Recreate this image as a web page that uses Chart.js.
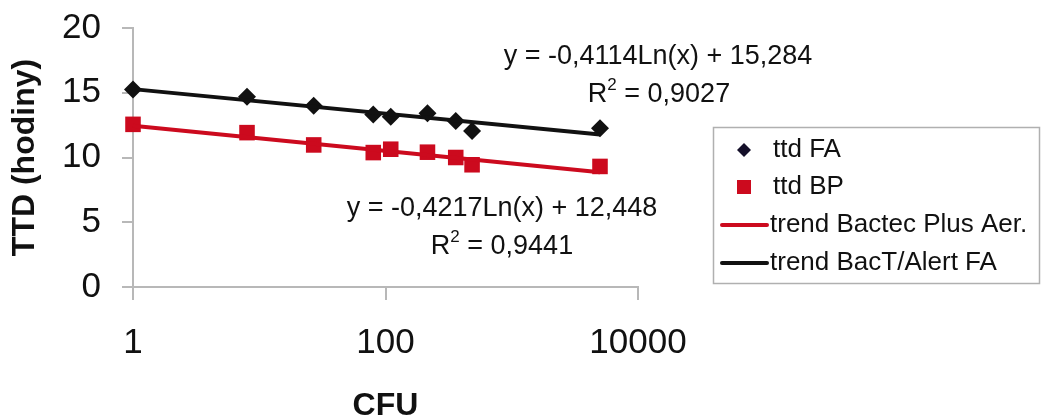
<!DOCTYPE html>
<html><head><meta charset="utf-8">
<script src="https://cdn.jsdelivr.net/npm/chart.js@4/dist/chart.umd.min.js"></script>
<style>html,body{margin:0;padding:0;background:#fff}#wrap{width:1041px;height:420px}</style>
</head><body><div id="wrap"><canvas id="c" width="1041" height="420"></canvas></div>
<script>
const cfu = [1, 8, 27, 80, 110, 215, 360, 485, 5000];
const ttdFA = [15.26, 14.69, 14.0, 13.33, 13.15, 13.41, 12.82, 12.05, 12.26];
const ttdBP = [12.56, 11.92, 10.97, 10.38, 10.64, 10.41, 10.0, 9.44, 9.31];
const trendX = [1, 5000];
const trendFA = [15.28, 11.78];
const trendBP = [12.45, 8.86];
const xTicks = [1, 100, 10000];
const xTickLabels = ['1', '100', '10000'];
const yTicks = [0, 5, 10, 15, 20];
const eqFA = ['y = -0,4114Ln(x) + 15,284', '0,9027'];
const eqBP = ['y = -0,4217Ln(x) + 12,448', '0,9441'];
const legendLabels = ['ttd FA', 'ttd BP', 'trend Bactec Plus Aer.', 'trend BacT/Alert FA'];

const FONT = "'Liberation Sans', Arial, sans-serif";
const pts = (xs, ys) => xs.map((x, i) => ({x: x, y: ys[i]}));

function drawR2(ctx, val, cx, cy, size) {
  const big = size + 'px ' + FONT, small = Math.round(size * 0.62) + 'px ' + FONT;
  const rest = ' = ' + val;
  ctx.font = big; const wR = ctx.measureText('R').width, wRest = ctx.measureText(rest).width;
  ctx.font = small; const w2 = ctx.measureText('2').width;
  let x = cx - (wR + w2 + wRest) / 2;
  ctx.textAlign = 'left'; ctx.textBaseline = 'middle';
  ctx.font = big; ctx.fillText('R', x, cy); x += wR;
  ctx.font = small; ctx.fillText('2', x, cy - size * 0.35); x += w2;
  ctx.font = big; ctx.fillText(rest, x, cy);
}

const overlay = {
  id: 'overlay',
  afterDraw(chart) {
    const ctx = chart.ctx;
    ctx.save();
    ctx.fillStyle = '#111';
    ctx.font = '27px ' + FONT;
    ctx.textAlign = 'center';
    ctx.textBaseline = 'middle';
    ctx.fillText(eqFA[0], 658, 57);
    drawR2(ctx, eqFA[1], 659, 95, 27);
    ctx.font = '27px ' + FONT;
    ctx.textAlign = 'center';
    ctx.fillText(eqBP[0], 502, 209);
    drawR2(ctx, eqBP[1], 502, 247, 27);
    // legend
    ctx.strokeStyle = '#b0b0b0';
    ctx.lineWidth = 1.5;
    ctx.strokeRect(713.5, 127.5, 326, 156);
    ctx.font = '26px ' + FONT;
    ctx.textAlign = 'left';
    ctx.textBaseline = 'middle';
    const ys = [150, 187, 225, 263];
    ctx.fillStyle = '#15102a';
    ctx.beginPath();
    ctx.moveTo(744, 150 - 7); ctx.lineTo(751, 150); ctx.lineTo(744, 150 + 7); ctx.lineTo(737, 150); ctx.closePath(); ctx.fill();
    ctx.fillStyle = '#cc0a1e';
    ctx.fillRect(737, 180, 14, 14);
    ctx.lineCap = 'round';
    ctx.lineWidth = 4;
    ctx.strokeStyle = '#cc0a1e';
    ctx.beginPath(); ctx.moveTo(722, 225); ctx.lineTo(767, 225); ctx.stroke();
    ctx.strokeStyle = '#111';
    ctx.beginPath(); ctx.moveTo(722, 263); ctx.lineTo(767, 263); ctx.stroke();
    ctx.fillStyle = '#111';
    legendLabels.forEach((t, i) => ctx.fillText(t, i < 2 ? 773 : 770, ys[i]));
    ctx.restore();
  }
};

new Chart(document.getElementById('c'), {
  type: 'scatter',
  data: {
    datasets: [
      {label: 'trend Bactec Plus Aer.', type: 'line', data: pts(trendX, trendBP), borderColor: '#cc0a1e', borderWidth: 4, pointRadius: 0, fill: false, clip: false},
      {label: 'trend BacT/Alert FA', type: 'line', data: pts(trendX, trendFA), borderColor: '#111', borderWidth: 4, pointRadius: 0, fill: false, clip: false},
      {label: 'ttd FA', data: pts(cfu, ttdFA), pointStyle: 'rectRot', pointRadius: 9, backgroundColor: '#111', borderColor: '#111', borderWidth: 0, clip: false},
      {label: 'ttd BP', data: pts(cfu, ttdBP), pointStyle: 'rect', pointRadius: 11, backgroundColor: '#cc0a1e', borderColor: '#cc0a1e', borderWidth: 0, clip: false}
    ]
  },
  options: {
    responsive: false,
    animation: false,
    events: [],
    layout: {autoPadding: false, padding: {left: 0, top: 28, right: 403, bottom: 0}},
    plugins: {legend: {display: false}, tooltip: {enabled: false}},
    scales: {
      x: {
        type: 'logarithmic', min: 1, max: 10000,
        afterBuildTicks: s => { s.ticks = xTicks.map(v => ({value: v})); },
        afterFit: s => { s.height = 133; s.paddingLeft = 0; s.paddingRight = 0; },
        ticks: {callback: (v) => { const i = xTicks.indexOf(v); return i >= 0 ? xTickLabels[i] : ''; }, font: {family: FONT, size: 35}, color: '#111', padding: 22, maxRotation: 0, autoSkip: false},
        grid: {drawOnChartArea: false, drawTicks: true, tickLength: 13, color: '#b8b8b8', lineWidth: 2},
        border: {color: '#b8b8b8', width: 2},
        title: {display: true, text: 'CFU', font: {family: FONT, size: 32, weight: 'bold'}, color: '#111', padding: {top: 0, bottom: -5}}
      },
      y: {
        min: 0, max: 20,
        afterBuildTicks: s => { s.ticks = yTicks.map(v => ({value: v})); },
        afterFit: s => { s.width = 133; s.paddingTop = 0; s.paddingBottom = 0; },
        ticks: {font: {family: FONT, size: 35}, color: '#111', padding: 21},
        grid: {drawOnChartArea: false, drawTicks: true, tickLength: 11, color: '#b8b8b8', lineWidth: 2},
        border: {color: '#b8b8b8', width: 2},
        title: {display: true, text: 'TTD (hodiny)', font: {family: FONT, size: 32, weight: 'bold'}, color: '#111', padding: {top: 6, bottom: 0}}
      }
    }
  },
  plugins: [overlay]
});
</script>
</body></html>
